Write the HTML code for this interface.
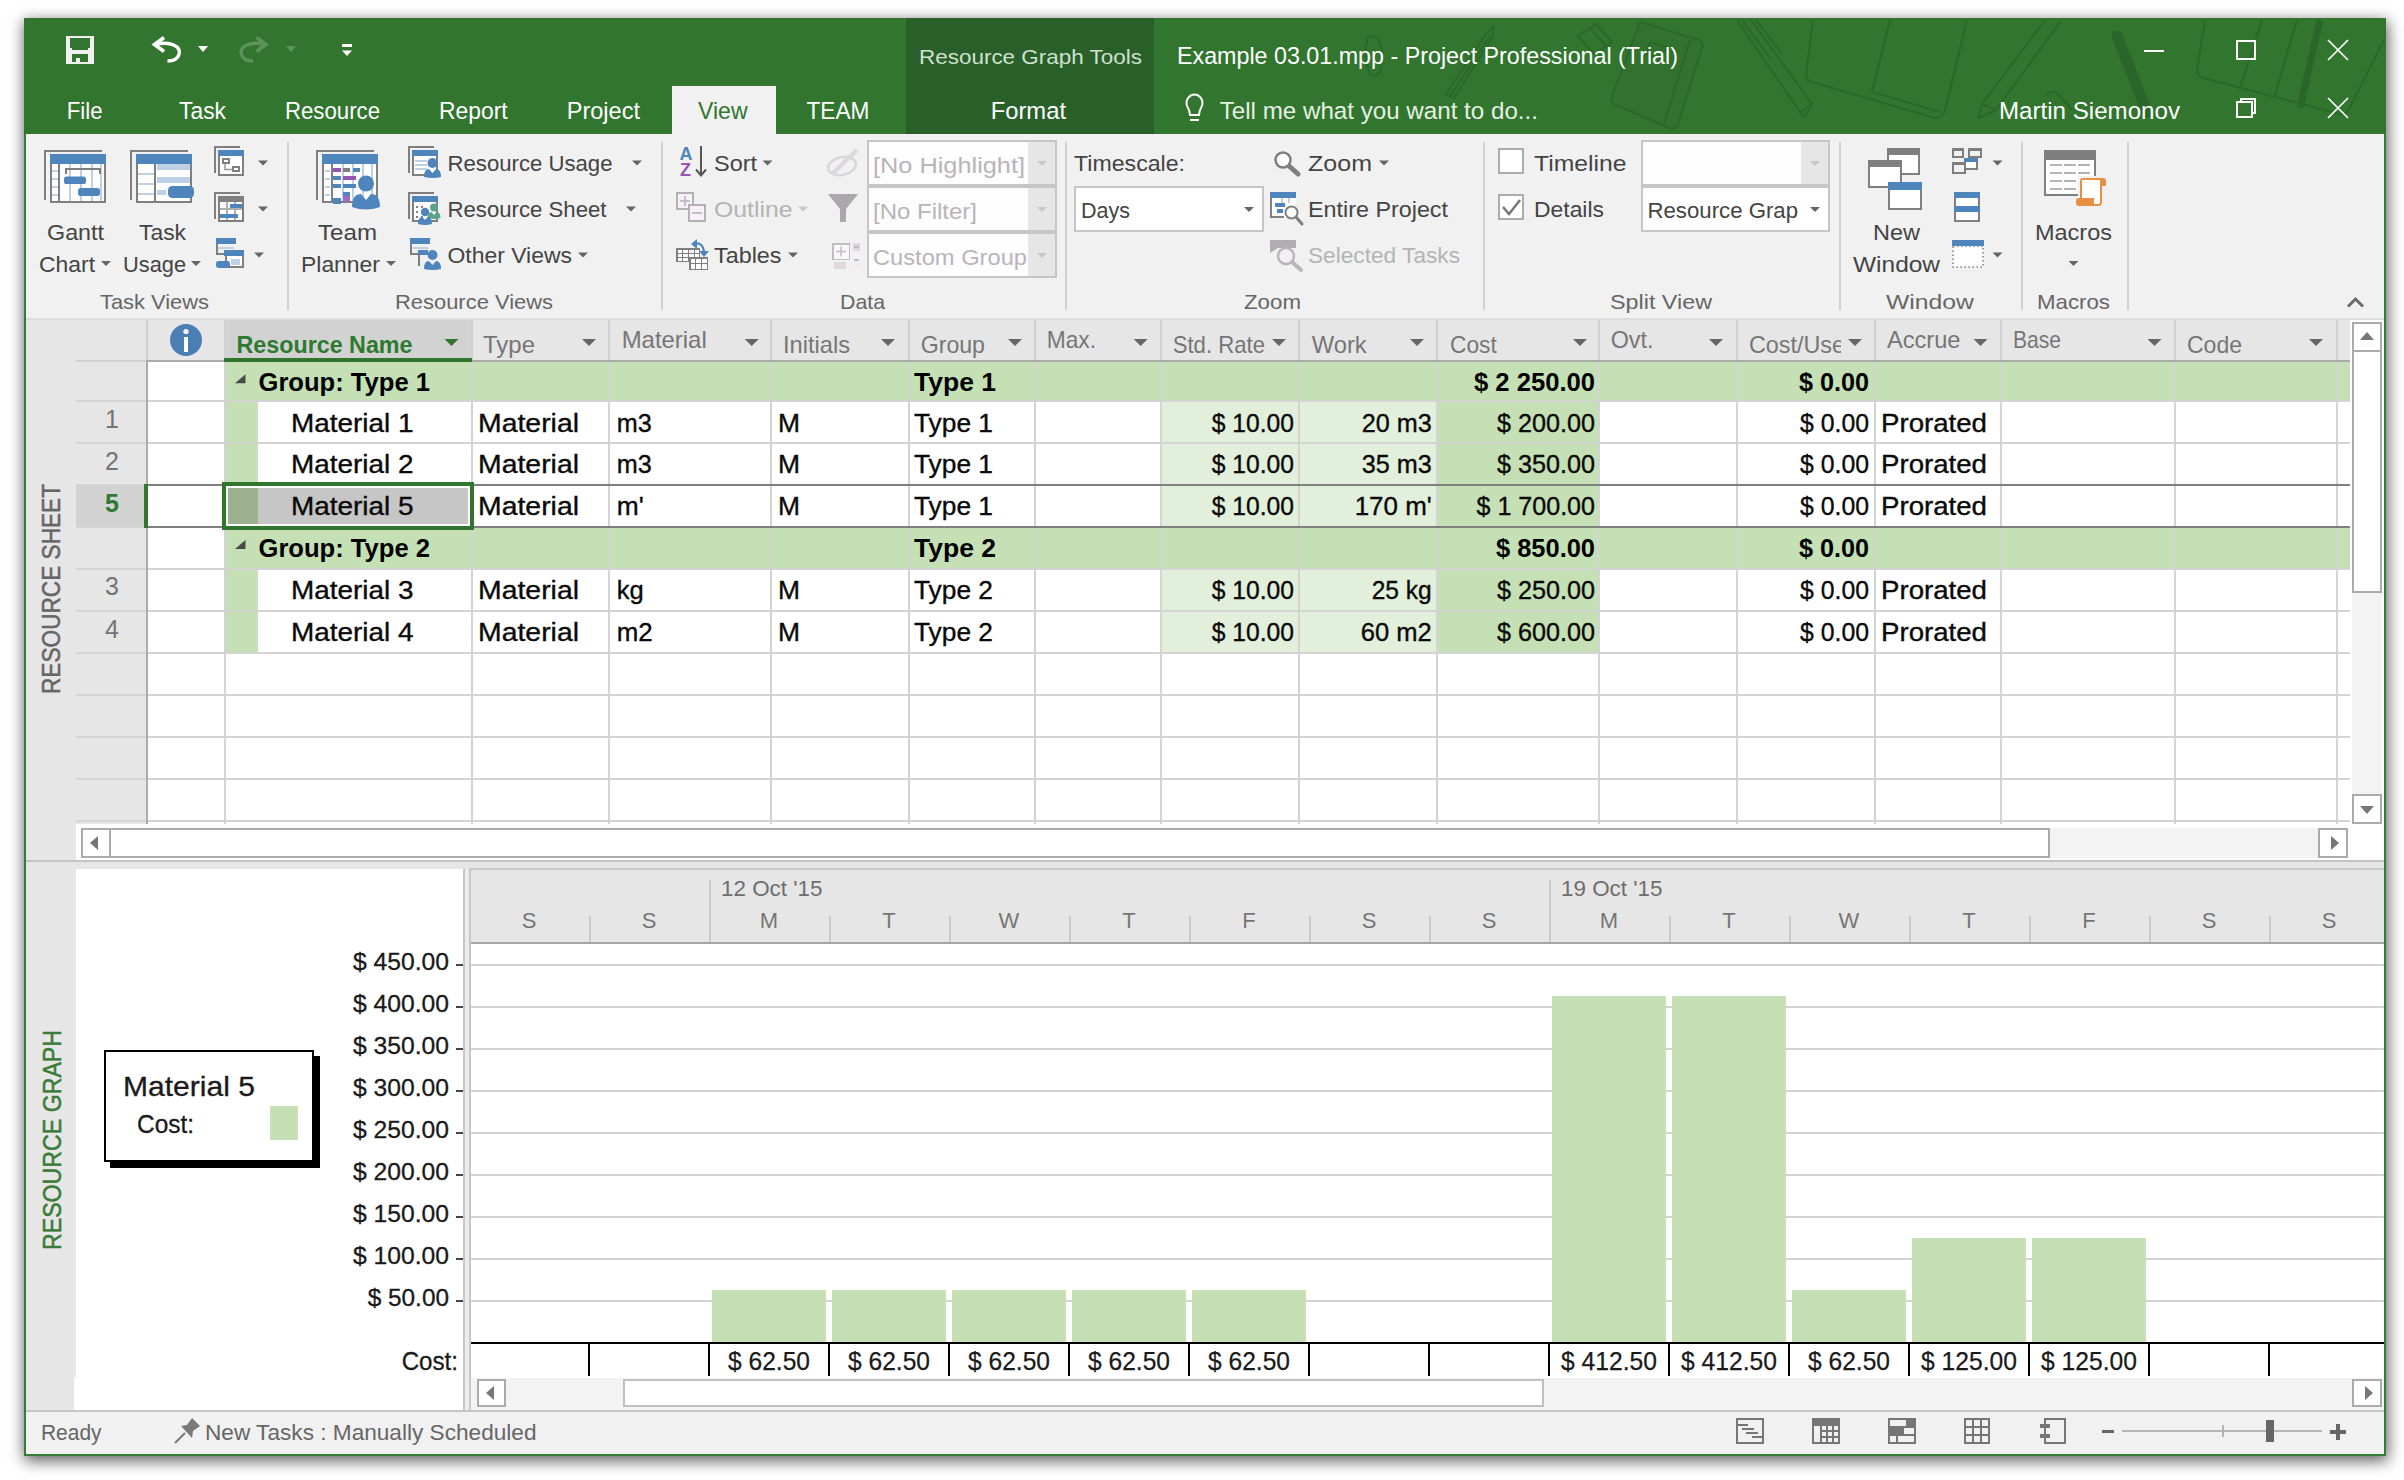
<!DOCTYPE html>
<html><head><meta charset="utf-8"><title>Project Professional</title>
<style>
html,body{margin:0;padding:0;background:#fff;width:2404px;height:1480px;overflow:hidden}
#shadow{position:absolute;left:24px;top:18px;width:2362px;height:1438px;box-shadow:1px 4px 14px 1px rgba(0,0,0,.62);background:#31752f}
svg{position:absolute;left:0;top:0;font-family:"Liberation Sans",sans-serif}
text{white-space:pre}
</style></head><body>
<div id="shadow"></div>
<svg width="2404" height="1480" viewBox="0 0 2404 1480">
<rect x="24" y="18" width="2362" height="1438" fill="#31752f" shape-rendering="crispEdges"/>
<rect x="26" y="134" width="2358" height="1320" fill="#f1f1f1" shape-rendering="crispEdges"/>
<rect x="906" y="18" width="248" height="116" fill="#295f28" shape-rendering="crispEdges"/>
<g stroke="#2a6829" stroke-width="2" fill="none" stroke-linejoin="round">
<path d="M1368,38 q-6,16 2,36 q6,4 10,-2 q6,-18 -2,-34 q-6,-4 -10,0 z M1374,50 q-3,10 1,20"/>
<path d="M1446,94 L1486,34 L1494,26 L1492,38 L1454,98 z M1450,96 L1490,36"/>
<path d="M1578,36 L1596,24 L1612,42 L1594,54 z M1590,28 L1606,46"/>
<path d="M1640,22 L1700,40 Q1704,42 1702,48 L1678,124 Q1675,130 1669,128 L1614,104 Q1610,102 1612,96 z M1690,40 L1664,124" fill="#30722e"/>
<path d="M1650,42 l16,5 l-4,12 l-16,-5 z"/>
<path d="M1742,20 L1770,58 M1756,20 L1782,54"/>
<path d="M1737,20 L1800,112 L1805,117 L1812,104 L1751,20 M1800,112 L1812,104"/>
<path d="M1813,20 L1806,75 Q1806,80 1812,82 L1935,118 Q1942,119 1945,110 L1967,20 M1890,20 L1872,92 L1940,112"/>
<path d="M2045,20 L1982,104 L1978,118 L1996,110 L2060,22 M1982,104 L1996,110"/>
<path d="M2046,96 q6,-8 12,-2 l14,16"/>
<path d="M2205,20 L2197,70 Q2197,76 2203,78 L2340,114 Q2346,115 2349,109 L2384,40 M2297,20 L2274,98 M2262,20 L2240,88"/>
</g>
<path d="M2117,36 L2147,112" stroke="#2a662a" stroke-width="11" stroke-linecap="round" fill="none"/>
<path d="M2320,20 L2300,108" stroke="#2a662a" stroke-width="7" fill="none"/>
<rect x="672" y="86" width="104" height="48" fill="#f1f1f1" shape-rendering="crispEdges"/>
<rect x="66" y="36" width="28" height="28" fill="#f0f0f0" shape-rendering="crispEdges"/>
<path d="M70,38 h20 v10 h-2 v2 h-16 v-2 h-2 z" fill="#31752f"/>
<path d="M72,54 h16 v8 h-16 z" fill="#31752f"/>
<rect x="76" y="58" width="4" height="4" fill="#f0f0f0" shape-rendering="crispEdges"/>
<path d="M164,37.5 L154.5,44.5 L164,51.5" fill="none" stroke="#ffffff" stroke-width="3.6"/>
<path d="M156,44.5 C170,41 181.5,46 179,54.5 C177.5,59.5 173,61 167.5,61" fill="none" stroke="#ffffff" stroke-width="3.4"/>
<path d="M198,46 h10 l-5,6 z" fill="#ffffff"/>
<g opacity="0.21">
<path d="M256.5,37.5 L266,44.5 L256.5,51.5" fill="none" stroke="#ffffff" stroke-width="3.6"/>
<path d="M264.5,44.5 C250.5,41 239,46 241.5,54.5 C243,59.5 247.5,61 253,61" fill="none" stroke="#ffffff" stroke-width="3.4"/>
<path d="M286,46 h10 l-5,6 z" fill="#ffffff"/>
</g>
<rect x="342" y="44" width="10" height="2.5" fill="#ffffff" shape-rendering="crispEdges"/>
<path d="M342,50.4 h10 l-5,5.6 z" fill="#ffffff"/>
<text x="919" y="64" font-size="21" fill="#cfe0cf" textLength="223" lengthAdjust="spacingAndGlyphs">Resource Graph Tools</text>
<text x="1177" y="64" font-size="24.5" fill="#ffffff" textLength="501" lengthAdjust="spacingAndGlyphs">Example 03.01.mpp - Project Professional (Trial)</text>
<text x="66.7" y="119.2" font-size="24.5" fill="#ffffff" textLength="35.9" lengthAdjust="spacingAndGlyphs">File</text>
<text x="179" y="119.2" font-size="24.5" fill="#ffffff" textLength="47" lengthAdjust="spacingAndGlyphs">Task</text>
<text x="285" y="119.2" font-size="24.5" fill="#ffffff" textLength="95" lengthAdjust="spacingAndGlyphs">Resource</text>
<text x="439" y="119.2" font-size="24.5" fill="#ffffff" textLength="68.6" lengthAdjust="spacingAndGlyphs">Report</text>
<text x="566.7" y="119.2" font-size="24.5" fill="#ffffff" textLength="73.3" lengthAdjust="spacingAndGlyphs">Project</text>
<text x="806.5" y="119.2" font-size="24.5" fill="#ffffff" textLength="63" lengthAdjust="spacingAndGlyphs">TEAM</text>
<text x="990.7" y="119.2" font-size="24.5" fill="#ffffff" textLength="75.3" lengthAdjust="spacingAndGlyphs">Format</text>
<text x="698" y="119.2" font-size="24.5" fill="#31752f" textLength="49.6" lengthAdjust="spacingAndGlyphs">View</text>
<text x="1219.7" y="119.2" font-size="24.5" fill="#e6f0e0" textLength="318.3" lengthAdjust="spacingAndGlyphs">Tell me what you want to do...</text>
<text x="1999" y="119.2" font-size="24.5" fill="#ffffff" textLength="181" lengthAdjust="spacingAndGlyphs">Martin Siemonov</text>
<path d="M1188,108 a8,8.5 0 1 1 13,0 q-2,3 -2,7 h-9 q0,-4 -2,-7 z" fill="none" stroke="#ffffff" stroke-width="2"/>
<rect x="1190" y="119" width="9" height="2" fill="#ffffff" shape-rendering="crispEdges"/>
<rect x="2144" y="50" width="20" height="2" fill="#ffffff" shape-rendering="crispEdges"/>
<rect x="2237" y="41" width="18" height="18" fill="none" stroke="#ffffff" stroke-width="2" shape-rendering="crispEdges"/>
<path d="M2328,40 L2348,60 M2348,40 L2328,60" fill="none" stroke="#ffffff" stroke-width="1.7"/>
<rect x="2237" y="102" width="15" height="15" fill="none" stroke="#ffffff" stroke-width="2" shape-rendering="crispEdges"/>
<path d="M2241,101 v-2 h14 v14 h-2" fill="none" stroke="#ffffff" stroke-width="2" shape-rendering="crispEdges"/>
<path d="M2328,98 L2348,118 M2348,98 L2328,118" fill="none" stroke="#ffffff" stroke-width="1.7"/>
<rect x="26" y="318" width="2358" height="2" fill="#dcdcdc" shape-rendering="crispEdges"/>
<rect x="287" y="142" width="2" height="168" fill="#d2d2d2" shape-rendering="crispEdges"/>
<rect x="661" y="142" width="2" height="168" fill="#d2d2d2" shape-rendering="crispEdges"/>
<rect x="1065" y="142" width="2" height="168" fill="#d2d2d2" shape-rendering="crispEdges"/>
<rect x="1483" y="142" width="2" height="168" fill="#d2d2d2" shape-rendering="crispEdges"/>
<rect x="1839" y="142" width="2" height="168" fill="#d2d2d2" shape-rendering="crispEdges"/>
<rect x="2021" y="142" width="2" height="168" fill="#d2d2d2" shape-rendering="crispEdges"/>
<rect x="2127" y="142" width="2" height="168" fill="#d2d2d2" shape-rendering="crispEdges"/>
<path d="M45,200 V151 H102" fill="none" stroke="#7f7f7f" stroke-width="2" shape-rendering="crispEdges"/>
<rect x="50" y="154" width="56" height="49" fill="#ffffff" shape-rendering="crispEdges"/>
<path d="M51,154 V202 H105 V154" fill="none" stroke="#7f7f7f" stroke-width="2" shape-rendering="crispEdges"/>
<rect x="50" y="154" width="56" height="10" fill="#4e85bd" shape-rendering="crispEdges"/>
<rect x="52" y="170" width="6" height="2" fill="#bdd0e6" shape-rendering="crispEdges"/>
<rect x="52" y="178" width="6" height="2" fill="#bdd0e6" shape-rendering="crispEdges"/>
<rect x="52" y="186" width="6" height="2" fill="#bdd0e6" shape-rendering="crispEdges"/>
<rect x="52" y="194" width="6" height="2" fill="#bdd0e6" shape-rendering="crispEdges"/>
<rect x="69" y="164" width="2" height="37" fill="#bdd0e6" shape-rendering="crispEdges"/>
<rect x="80" y="164" width="2" height="37" fill="#bdd0e6" shape-rendering="crispEdges"/>
<rect x="91" y="164" width="2" height="37" fill="#bdd0e6" shape-rendering="crispEdges"/>
<rect x="100" y="164" width="2" height="37" fill="#bdd0e6" shape-rendering="crispEdges"/>
<rect x="58" y="164" width="2" height="38" fill="#7f7f7f" shape-rendering="crispEdges"/>
<path d="M66,174 V169 H100 V174" fill="none" stroke="#7f7f7f" stroke-width="2" shape-rendering="crispEdges"/>
<rect x="64" y="176.5" width="22" height="7.5" rx="2.62" fill="#4e85bd"/>
<rect x="78" y="188" width="22" height="8" rx="2.8" fill="#4e85bd"/>
<text x="47" y="240" font-size="22.6" fill="#444444" textLength="57" lengthAdjust="spacingAndGlyphs">Gantt</text>
<text x="39" y="271.5" font-size="22.6" fill="#444444" textLength="56" lengthAdjust="spacingAndGlyphs">Chart</text>
<path d="M101,261 h10 l-5,5 z" fill="#666666"/>
<path d="M131,200 V151 H188" fill="none" stroke="#7f7f7f" stroke-width="2" shape-rendering="crispEdges"/>
<rect x="136" y="154" width="56" height="49" fill="#ffffff" shape-rendering="crispEdges"/>
<path d="M137,154 V202 H191 V154" fill="none" stroke="#7f7f7f" stroke-width="2" shape-rendering="crispEdges"/>
<rect x="136" y="154" width="56" height="10" fill="#4e85bd" shape-rendering="crispEdges"/>
<rect x="138" y="173" width="16" height="2" fill="#bdd0e6" shape-rendering="crispEdges"/>
<rect x="138" y="183" width="16" height="2" fill="#bdd0e6" shape-rendering="crispEdges"/>
<rect x="138" y="193" width="16" height="2" fill="#bdd0e6" shape-rendering="crispEdges"/>
<rect x="154" y="164" width="2" height="38" fill="#7f7f7f" shape-rendering="crispEdges"/>
<rect x="157" y="164" width="33" height="6" fill="#bdd0e6" shape-rendering="crispEdges"/>
<rect x="157" y="177" width="33" height="6" fill="#bdd0e6" shape-rendering="crispEdges"/>
<rect x="157" y="190" width="9" height="5" fill="#bdd0e6" shape-rendering="crispEdges"/>
<rect x="168" y="186" width="26" height="12" rx="4.2" fill="#4e85bd"/>
<text x="139" y="240" font-size="22.6" fill="#444444" textLength="47" lengthAdjust="spacingAndGlyphs">Task</text>
<text x="123" y="271.5" font-size="22.6" fill="#444444" textLength="63" lengthAdjust="spacingAndGlyphs">Usage</text>
<path d="M191,261 h10 l-5,5 z" fill="#666666"/>
<path d="M215,173 V147 H240" fill="none" stroke="#7f7f7f" stroke-width="2" shape-rendering="crispEdges"/>
<rect x="218" y="150" width="26" height="26" fill="#ffffff" shape-rendering="crispEdges"/>
<path d="M219,150 V175 H243 V150" fill="none" stroke="#7f7f7f" stroke-width="2" shape-rendering="crispEdges"/>
<rect x="218" y="150" width="26" height="6" fill="#4e85bd" shape-rendering="crispEdges"/>
<rect x="222.9" y="158.9" width="6.2" height="4.2" fill="none" stroke="#7f7f7f" stroke-width="1.8" shape-rendering="crispEdges"/>
<rect x="232.9" y="166.9" width="6.2" height="4.2" fill="none" stroke="#7f7f7f" stroke-width="1.8" shape-rendering="crispEdges"/>
<path d="M225,164 V169.5 H232" fill="none" stroke="#999999" stroke-width="1.6"/>
<path d="M258,160.5 h10 l-5,5 z" fill="#666666"/>
<path d="M215,219 V193 H240" fill="none" stroke="#7f7f7f" stroke-width="2" shape-rendering="crispEdges"/>
<rect x="218" y="196" width="26" height="26" fill="#ffffff" shape-rendering="crispEdges"/>
<path d="M219,196 V221 H243 V196" fill="none" stroke="#7f7f7f" stroke-width="2" shape-rendering="crispEdges"/>
<rect x="218" y="196" width="26" height="6" fill="#7f7f7f" shape-rendering="crispEdges"/>
<rect x="226" y="202" width="1.5" height="18" fill="#b0b0b0" shape-rendering="crispEdges"/>
<rect x="234" y="202" width="1.5" height="18" fill="#b0b0b0" shape-rendering="crispEdges"/>
<rect x="220" y="208" width="22" height="1.5" fill="#b0b0b0" shape-rendering="crispEdges"/>
<rect x="230" y="204" width="12" height="3.8" fill="#4e85bd" shape-rendering="crispEdges"/>
<rect x="220" y="214" width="18" height="3.8" fill="#4e85bd" shape-rendering="crispEdges"/>
<path d="M258,206.5 h10 l-5,5 z" fill="#666666"/>
<rect x="216" y="238" width="20" height="6" fill="#4e85bd" shape-rendering="crispEdges"/>
<path d="M217,244 V254 H224" fill="none" stroke="#7f7f7f" stroke-width="2" shape-rendering="crispEdges"/>
<rect x="218" y="247" width="16" height="1.5" fill="#bdd0e6" shape-rendering="crispEdges"/>
<rect x="226" y="251" width="17" height="16" fill="#ffffff" stroke="#7f7f7f" stroke-width="2" shape-rendering="crispEdges"/>
<rect x="224" y="250" width="20" height="6" fill="#4e85bd" shape-rendering="crispEdges"/>
<rect x="231" y="259" width="9" height="6" fill="#bdd0e6" shape-rendering="crispEdges"/>
<rect x="216" y="261" width="14" height="7" rx="2.45" fill="#4e85bd"/>
<path d="M254,252.5 h10 l-5,5 z" fill="#666666"/>
<text x="100" y="309" font-size="21" fill="#666666" textLength="109" lengthAdjust="spacingAndGlyphs">Task Views</text>
<path d="M317,200 V151 H374" fill="none" stroke="#7f7f7f" stroke-width="2" shape-rendering="crispEdges"/>
<rect x="322" y="154" width="56" height="49" fill="#ffffff" shape-rendering="crispEdges"/>
<path d="M323,154 V202 H377 V154" fill="none" stroke="#7f7f7f" stroke-width="2" shape-rendering="crispEdges"/>
<rect x="322" y="154" width="56" height="10" fill="#4e85bd" shape-rendering="crispEdges"/>
<rect x="331" y="164" width="2" height="38" fill="#7f7f7f" shape-rendering="crispEdges"/>
<rect x="325" y="170" width="5" height="2" fill="#bdd0e6" shape-rendering="crispEdges"/>
<rect x="325" y="178" width="5" height="2" fill="#bdd0e6" shape-rendering="crispEdges"/>
<rect x="325" y="186" width="5" height="2" fill="#bdd0e6" shape-rendering="crispEdges"/>
<rect x="325" y="194" width="5" height="2" fill="#bdd0e6" shape-rendering="crispEdges"/>
<rect x="342" y="164" width="2" height="37" fill="#bdd0e6" shape-rendering="crispEdges"/>
<rect x="352" y="164" width="2" height="37" fill="#bdd0e6" shape-rendering="crispEdges"/>
<rect x="362" y="164" width="2" height="37" fill="#bdd0e6" shape-rendering="crispEdges"/>
<rect x="371" y="164" width="2" height="37" fill="#bdd0e6" shape-rendering="crispEdges"/>
<rect x="333" y="168" width="8" height="3.5" fill="#9654b5" shape-rendering="crispEdges"/>
<rect x="343" y="168" width="7" height="3.5" fill="#7f7f7f" shape-rendering="crispEdges"/>
<rect x="353" y="168" width="7" height="3.5" fill="#4e85bd" shape-rendering="crispEdges"/>
<rect x="333" y="176" width="8" height="3.5" fill="#4e85bd" shape-rendering="crispEdges"/>
<rect x="343" y="176" width="13" height="3.5" fill="#9654b5" shape-rendering="crispEdges"/>
<rect x="333" y="184" width="8" height="3.5" fill="#4e85bd" shape-rendering="crispEdges"/>
<rect x="343" y="184" width="13" height="3.5" fill="#4e85bd" shape-rendering="crispEdges"/>
<rect x="343" y="192" width="7" height="3.5" fill="#4e85bd" shape-rendering="crispEdges"/>
<rect x="333" y="198" width="8" height="6" fill="#4e85bd" shape-rendering="crispEdges"/>
<rect x="343" y="196" width="7" height="6" fill="#9f6cc0" shape-rendering="crispEdges"/>
<circle cx="366" cy="183.5" r="8" fill="#4e85bd"/>
<path d="M352,207 q0,-13 9,-13 l5,6 l5,-6 q9,0 9,13 q-14,5 -28,0 z" fill="#4e85bd"/>
<text x="318" y="240" font-size="22.6" fill="#444444" textLength="59" lengthAdjust="spacingAndGlyphs">Team</text>
<text x="301" y="271.5" font-size="22.6" fill="#444444" textLength="79" lengthAdjust="spacingAndGlyphs">Planner</text>
<path d="M386,261 h10 l-5,5 z" fill="#666666"/>
<path d="M409,173 V147 H434" fill="none" stroke="#7f7f7f" stroke-width="2" shape-rendering="crispEdges"/>
<rect x="412" y="150" width="26" height="26" fill="#ffffff" shape-rendering="crispEdges"/>
<path d="M413,150 V175 H437 V150" fill="none" stroke="#7f7f7f" stroke-width="2" shape-rendering="crispEdges"/>
<rect x="412" y="150" width="26" height="6" fill="#4e85bd" shape-rendering="crispEdges"/>
<rect x="415" y="160" width="12" height="1.5" fill="#bdd0e6" shape-rendering="crispEdges"/>
<rect x="415" y="164" width="12" height="1.5" fill="#bdd0e6" shape-rendering="crispEdges"/>
<rect x="415" y="168" width="12" height="1.5" fill="#bdd0e6" shape-rendering="crispEdges"/>
<circle cx="432.5" cy="163" r="5" fill="#4e85bd"/>
<path d="M424,177 q0,-8 5,-8 l3.5,4 l3.5,-4 q5,0 5,8 q-8,2 -17,0 z" fill="#4e85bd"/>
<text x="447.5" y="171" font-size="22.6" fill="#444444" textLength="165" lengthAdjust="spacingAndGlyphs">Resource Usage</text>
<path d="M632,160.5 h10 l-5,5 z" fill="#666666"/>
<path d="M409,219 V193 H434" fill="none" stroke="#7f7f7f" stroke-width="2" shape-rendering="crispEdges"/>
<rect x="412" y="196" width="26" height="26" fill="#ffffff" shape-rendering="crispEdges"/>
<path d="M413,196 V221 H437 V196" fill="none" stroke="#7f7f7f" stroke-width="2" shape-rendering="crispEdges"/>
<rect x="412" y="196" width="26" height="6" fill="#4e85bd" shape-rendering="crispEdges"/>
<rect x="416" y="206" width="2" height="2" fill="#7f7f7f" shape-rendering="crispEdges"/>
<rect x="421" y="206" width="2" height="2" fill="#7f7f7f" shape-rendering="crispEdges"/>
<rect x="416" y="211" width="2" height="2" fill="#7f7f7f" shape-rendering="crispEdges"/>
<rect x="421" y="211" width="2" height="2" fill="#7f7f7f" shape-rendering="crispEdges"/>
<rect x="416" y="216" width="2" height="2" fill="#7f7f7f" shape-rendering="crispEdges"/>
<rect x="421" y="216" width="2" height="2" fill="#7f7f7f" shape-rendering="crispEdges"/>
<circle cx="434" cy="207.5" r="4" fill="#5ba48b"/>
<path d="M427.5,218 q0,-6 4,-6 l2.5,3 l2.5,-3 q4,0 4,6 q-6,2 -13,0 z" fill="#5ba48b"/>
<circle cx="425" cy="212" r="4.2" fill="#4e85bd"/>
<path d="M418,224 q0,-7 4.5,-7 l2.5,3 l2.5,-3 q4.5,0 4.5,7 q-7,2 -14,0 z" fill="#4e85bd"/>
<text x="447.5" y="217.3" font-size="22.6" fill="#444444" textLength="159" lengthAdjust="spacingAndGlyphs">Resource Sheet</text>
<path d="M626,206.5 h10 l-5,5 z" fill="#666666"/>
<rect x="410" y="238" width="20" height="6" fill="#4e85bd" shape-rendering="crispEdges"/>
<path d="M411,244 V254 H418" fill="none" stroke="#7f7f7f" stroke-width="2" shape-rendering="crispEdges"/>
<rect x="413" y="247" width="15" height="1.5" fill="#bdd0e6" shape-rendering="crispEdges"/>
<path d="M419,266 V251 H426" fill="none" stroke="#7f7f7f" stroke-width="2" shape-rendering="crispEdges"/>
<rect x="418" y="250" width="10" height="5" fill="#4e85bd" shape-rendering="crispEdges"/>
<circle cx="432.5" cy="255" r="5" fill="#4e85bd"/>
<path d="M424,269 q0,-8 5,-8 l3.5,4 l3.5,-4 q5,0 5,8 q-8,2 -17,0 z" fill="#4e85bd"/>
<text x="447.5" y="263.3" font-size="22.6" fill="#444444" textLength="124.5" lengthAdjust="spacingAndGlyphs">Other Views</text>
<path d="M578,252.5 h10 l-5,5 z" fill="#666666"/>
<text x="395" y="309" font-size="21" fill="#666666" textLength="158" lengthAdjust="spacingAndGlyphs">Resource Views</text>
<text x="679.5" y="160" font-size="18" fill="#4e85bd" font-weight="bold" textLength="13" lengthAdjust="spacingAndGlyphs">A</text>
<text x="680" y="175.6" font-size="18" fill="#9654b5" font-weight="bold" textLength="11" lengthAdjust="spacingAndGlyphs">Z</text>
<path d="M701,146 V175 M696,169.5 L701,175.5 L706,169.5" fill="none" stroke="#555555" stroke-width="2"/>
<text x="714" y="171" font-size="22.6" fill="#444444" textLength="43" lengthAdjust="spacingAndGlyphs">Sort</text>
<path d="M762.5,160.5 h10 l-5,5 z" fill="#666666"/>
<rect x="677" y="193" width="16" height="16" fill="#f7f0f7" stroke="#b4b1b4" stroke-width="2" shape-rendering="crispEdges"/>
<path d="M680,201 h10 M685,196 v10" fill="none" stroke="#b4b1b4" stroke-width="1.5"/>
<rect x="689" y="205" width="16" height="16" fill="#f7f0f7" stroke="#b4b1b4" stroke-width="2" shape-rendering="crispEdges"/>
<path d="M692,213 h10" fill="none" stroke="#b4b1b4" stroke-width="1.5"/>
<text x="714" y="217.3" font-size="22.6" fill="#b4b4b4" textLength="78.5" lengthAdjust="spacingAndGlyphs">Outline</text>
<path d="M798,206.5 h10 l-5,5 z" fill="#c8c8c8"/>
<rect x="676.75" y="248.75" width="22.5" height="12.5" fill="#ffffff" stroke="#7f7f7f" stroke-width="1.5" shape-rendering="crispEdges"/>
<rect x="682" y="249" width="1.2" height="12" fill="#7f7f7f" shape-rendering="crispEdges"/>
<rect x="688" y="249" width="1.2" height="12" fill="#7f7f7f" shape-rendering="crispEdges"/>
<rect x="694" y="249" width="1.2" height="12" fill="#7f7f7f" shape-rendering="crispEdges"/>
<rect x="677" y="252.5" width="22" height="1.2" fill="#7f7f7f" shape-rendering="crispEdges"/>
<rect x="677" y="256.5" width="22" height="1.2" fill="#7f7f7f" shape-rendering="crispEdges"/>
<rect x="689.75" y="257.75" width="17.5" height="11.5" fill="#ffffff" stroke="#7f7f7f" stroke-width="1.5" shape-rendering="crispEdges"/>
<rect x="695" y="258" width="1.2" height="11" fill="#7f7f7f" shape-rendering="crispEdges"/>
<rect x="701" y="258" width="1.2" height="11" fill="#7f7f7f" shape-rendering="crispEdges"/>
<rect x="690" y="263" width="17" height="1.2" fill="#7f7f7f" shape-rendering="crispEdges"/>
<path d="M693,244 q11,-3 11,10" fill="none" stroke="#4e85bd" stroke-width="2.2"/>
<path d="M691,244 l6,-5 v10 z M699,251 h10 l-5,6 z" fill="#4e85bd"/>
<text x="714" y="263.3" font-size="22.6" fill="#444444" textLength="67.5" lengthAdjust="spacingAndGlyphs">Tables</text>
<path d="M788,252.5 h10 l-5,5 z" fill="#666666"/>
<ellipse cx="842" cy="166" rx="14" ry="9" fill="none" stroke="#d8d6d8" stroke-width="2.5" transform="rotate(-12 842 166)"/>
<path d="M832,174 L857,150" fill="none" stroke="#dcd8dc" stroke-width="4"/>
<path d="M828,194 H858 L846,209 V222 H840 V209 z" fill="#aaa8aa"/>
<rect x="832.75" y="243.75" width="16.5" height="15.5" fill="#fbf6fb" stroke="#bdbdbd" stroke-width="1.5" shape-rendering="crispEdges"/>
<path d="M836,251.5 h10 M841,246.5 v10" fill="none" stroke="#bdbdbd" stroke-width="1.5"/>
<rect x="853" y="243" width="7" height="8" fill="#ded9de" shape-rendering="crispEdges"/>
<rect x="854" y="246" width="5" height="1.5" fill="#bdbdbd" shape-rendering="crispEdges"/>
<rect x="854" y="259" width="5" height="1.5" fill="#bdbdbd" shape-rendering="crispEdges"/>
<rect x="834" y="262" width="12" height="7" fill="#ded9de" shape-rendering="crispEdges"/>
<rect x="846" y="262" width="14" height="7" fill="#f3ecf3" shape-rendering="crispEdges"/>
<rect x="868" y="141" width="188" height="44" fill="#fdfdfd" stroke="#c6c6c6" stroke-width="2" shape-rendering="crispEdges"/>
<rect x="1028" y="142" width="27" height="42" fill="#e6e6e6" shape-rendering="crispEdges"/>
<path d="M1037,161 h10 l-5,5 z" fill="#c8c8c8"/>
<text x="873" y="173.2" font-size="22.6" fill="#b9b4b9" textLength="152" lengthAdjust="spacingAndGlyphs">[No Highlight]</text>
<rect x="868" y="187" width="188" height="44" fill="#fdfdfd" stroke="#c6c6c6" stroke-width="2" shape-rendering="crispEdges"/>
<rect x="1028" y="188" width="27" height="42" fill="#e6e6e6" shape-rendering="crispEdges"/>
<path d="M1037,207 h10 l-5,5 z" fill="#c8c8c8"/>
<text x="873" y="219.2" font-size="22.6" fill="#b9b4b9" textLength="104" lengthAdjust="spacingAndGlyphs">[No Filter]</text>
<rect x="868" y="233" width="188" height="44" fill="#fdfdfd" stroke="#c6c6c6" stroke-width="2" shape-rendering="crispEdges"/>
<rect x="1028" y="234" width="27" height="42" fill="#e6e6e6" shape-rendering="crispEdges"/>
<path d="M1037,253 h10 l-5,5 z" fill="#c8c8c8"/>
<text x="873" y="265" font-size="22.6" fill="#b9b4b9" textLength="154" lengthAdjust="spacingAndGlyphs">Custom Group</text>
<text x="840" y="309" font-size="21" fill="#666666" textLength="45" lengthAdjust="spacingAndGlyphs">Data</text>
<text x="1074" y="171" font-size="22.6" fill="#444444" textLength="111" lengthAdjust="spacingAndGlyphs">Timescale:</text>
<rect x="1075" y="187" width="188" height="44" fill="#ffffff" stroke="#c6c6c6" stroke-width="2" shape-rendering="crispEdges"/>
<path d="M1244,207 h10 l-5,5 z" fill="#666666"/>
<text x="1081" y="218" font-size="22.6" fill="#444444" textLength="49" lengthAdjust="spacingAndGlyphs">Days</text>
<path d="M1289,166 L1298,174" fill="none" stroke="#7f7f7f" stroke-width="5" stroke-linecap="round"/>
<circle cx="1283" cy="160" r="7.5" fill="#ffffff" stroke="#7f7f7f" stroke-width="2.5"/>
<text x="1308" y="171" font-size="22.6" fill="#444444" textLength="64" lengthAdjust="spacingAndGlyphs">Zoom</text>
<path d="M1379,160.5 h10 l-5,5 z" fill="#666666"/>
<rect x="1272" y="198" width="24" height="20" fill="#ffffff" shape-rendering="crispEdges"/>
<path d="M1271,198 V217 H1284" fill="none" stroke="#7f7f7f" stroke-width="2" shape-rendering="crispEdges"/>
<rect x="1270" y="192" width="26" height="6" fill="#4e85bd" shape-rendering="crispEdges"/>
<rect x="1281" y="198" width="2" height="5" fill="#bdd0e6" shape-rendering="crispEdges"/>
<rect x="1288" y="198" width="2" height="5" fill="#bdd0e6" shape-rendering="crispEdges"/>
<rect x="1275" y="203" width="10" height="3.5" fill="#4e85bd" shape-rendering="crispEdges"/>
<rect x="1277" y="209" width="6" height="3.5" fill="#4e85bd" shape-rendering="crispEdges"/>
<path d="M1296,217 L1302,224" fill="none" stroke="#7f7f7f" stroke-width="3" stroke-linecap="round"/>
<circle cx="1291.5" cy="212.5" r="6" fill="#ffffff" stroke="#7f7f7f" stroke-width="2"/>
<text x="1308" y="217.3" font-size="22.6" fill="#444444" textLength="140" lengthAdjust="spacingAndGlyphs">Entire Project</text>
<path d="M1270,240 H1296 V248 H1278 L1270,253 z" fill="#b0aeb0"/>
<path d="M1292,262 L1301,270" fill="none" stroke="#b8b6b8" stroke-width="4" stroke-linecap="round"/>
<circle cx="1286" cy="256" r="8" fill="#f5eef5" stroke="#b8b6b8" stroke-width="2.5"/>
<text x="1308" y="263.3" font-size="22.6" fill="#b4b4b4" textLength="152" lengthAdjust="spacingAndGlyphs">Selected Tasks</text>
<text x="1244" y="309" font-size="21" fill="#666666" textLength="57" lengthAdjust="spacingAndGlyphs">Zoom</text>
<rect x="1499" y="149" width="24" height="24" fill="#ffffff" stroke="#ababab" stroke-width="2" shape-rendering="crispEdges"/>
<text x="1534" y="171" font-size="22.6" fill="#444444" textLength="92.5" lengthAdjust="spacingAndGlyphs">Timeline</text>
<rect x="1499" y="195" width="24" height="24" fill="#ffffff" stroke="#ababab" stroke-width="2" shape-rendering="crispEdges"/>
<path d="M1503,207 L1509,214 L1520,200" fill="none" stroke="#777777" stroke-width="2.5"/>
<text x="1534" y="217.3" font-size="22.6" fill="#444444" textLength="70" lengthAdjust="spacingAndGlyphs">Details</text>
<rect x="1642" y="141" width="187" height="44" fill="#fdfdfd" stroke="#c6c6c6" stroke-width="2" shape-rendering="crispEdges"/>
<rect x="1801" y="142" width="27" height="42" fill="#e6e6e6" shape-rendering="crispEdges"/>
<path d="M1810,161 h10 l-5,5 z" fill="#c8c8c8"/>
<rect x="1642" y="187" width="187" height="44" fill="#ffffff" stroke="#c6c6c6" stroke-width="2" shape-rendering="crispEdges"/>
<path d="M1810,207 h10 l-5,5 z" fill="#666666"/>
<text x="1647.5" y="218" font-size="22.6" fill="#444444" textLength="150.5" lengthAdjust="spacingAndGlyphs">Resource Grap</text>
<text x="1610" y="309" font-size="21" fill="#666666" textLength="102" lengthAdjust="spacingAndGlyphs">Split View</text>
<rect x="1888" y="149" width="31" height="25" fill="#ffffff" stroke="#7f7f7f" stroke-width="2" shape-rendering="crispEdges"/>
<rect x="1887" y="148" width="33" height="7" fill="#7f7f7f" shape-rendering="crispEdges"/>
<rect x="1869" y="161" width="32" height="26" fill="#ffffff" stroke="#7f7f7f" stroke-width="2" shape-rendering="crispEdges"/>
<rect x="1868" y="160" width="34" height="7" fill="#7f7f7f" shape-rendering="crispEdges"/>
<rect x="1889" y="183" width="32" height="26" fill="#ffffff" stroke="#7f7f7f" stroke-width="2" shape-rendering="crispEdges"/>
<rect x="1888" y="182" width="34" height="8" fill="#4e85bd" shape-rendering="crispEdges"/>
<text x="1873" y="240" font-size="22.6" fill="#444444" textLength="47" lengthAdjust="spacingAndGlyphs">New</text>
<text x="1853" y="271.5" font-size="22.6" fill="#444444" textLength="87" lengthAdjust="spacingAndGlyphs">Window</text>
<rect x="1953" y="149" width="10" height="8" fill="#f1f1f1" stroke="#7f7f7f" stroke-width="2" shape-rendering="crispEdges"/>
<rect x="1952" y="148" width="12" height="3" fill="#7f7f7f" shape-rendering="crispEdges"/>
<rect x="1969" y="149" width="12" height="8" fill="#f1f1f1" stroke="#7f7f7f" stroke-width="2" shape-rendering="crispEdges"/>
<rect x="1968" y="148" width="14" height="3" fill="#7f7f7f" shape-rendering="crispEdges"/>
<rect x="1953" y="163" width="12" height="10" fill="#f1f1f1" stroke="#7f7f7f" stroke-width="2" shape-rendering="crispEdges"/>
<rect x="1952" y="162" width="14" height="3" fill="#7f7f7f" shape-rendering="crispEdges"/>
<rect x="1965" y="159" width="12" height="10" fill="#ffffff" stroke="#7f7f7f" stroke-width="2" shape-rendering="crispEdges"/>
<rect x="1964" y="158" width="14" height="4" fill="#4e85bd" shape-rendering="crispEdges"/>
<path d="M1992.5,160.5 h10 l-5,5 z" fill="#666666"/>
<rect x="1955" y="193" width="24" height="14" fill="#ffffff" stroke="#7f7f7f" stroke-width="2" shape-rendering="crispEdges"/>
<rect x="1954" y="192" width="26" height="6" fill="#4e85bd" shape-rendering="crispEdges"/>
<rect x="1955" y="207" width="24" height="14" fill="#ffffff" stroke="#7f7f7f" stroke-width="2" shape-rendering="crispEdges"/>
<rect x="1954" y="206" width="26" height="6" fill="#4e85bd" shape-rendering="crispEdges"/>
<rect x="1953" y="246" width="30" height="21" fill="#ffffff" shape-rendering="crispEdges"/>
<rect x="1953" y="246" width="30" height="21" fill="none" stroke="#7f7f7f" stroke-width="1.5" stroke-dasharray="1.5 2.5"/>
<rect x="1952" y="240" width="32" height="6" fill="#4e85bd" shape-rendering="crispEdges"/>
<path d="M1992.5,252.5 h10 l-5,5 z" fill="#666666"/>
<text x="1886" y="309" font-size="21" fill="#666666" textLength="88" lengthAdjust="spacingAndGlyphs">Window</text>
<rect x="2045" y="151" width="50" height="44" fill="#ffffff" stroke="#7f7f7f" stroke-width="2" shape-rendering="crispEdges"/>
<rect x="2044" y="150" width="52" height="10" fill="#7f7f7f" shape-rendering="crispEdges"/>
<rect x="2050" y="164" width="12" height="2" fill="#b4b4b4" shape-rendering="crispEdges"/>
<rect x="2064" y="164" width="12" height="2" fill="#b4b4b4" shape-rendering="crispEdges"/>
<rect x="2078" y="164" width="12" height="2" fill="#b4b4b4" shape-rendering="crispEdges"/>
<rect x="2050" y="172" width="12" height="2" fill="#b4b4b4" shape-rendering="crispEdges"/>
<rect x="2064" y="172" width="12" height="2" fill="#b4b4b4" shape-rendering="crispEdges"/>
<rect x="2078" y="172" width="12" height="2" fill="#b4b4b4" shape-rendering="crispEdges"/>
<rect x="2050" y="180" width="12" height="2" fill="#b4b4b4" shape-rendering="crispEdges"/>
<rect x="2064" y="180" width="12" height="2" fill="#b4b4b4" shape-rendering="crispEdges"/>
<rect x="2050" y="188" width="12" height="2" fill="#b4b4b4" shape-rendering="crispEdges"/>
<rect x="2064" y="188" width="12" height="2" fill="#b4b4b4" shape-rendering="crispEdges"/>
<path d="M2078,176 h30 v12 h-4 v20 h-30 v-12 h4 z" fill="#f1f1f1"/>
<path d="M2083,178 h20 q3,0 3,3 v5 h-4 v16 q0,4 -4,4 h-19 q-3,0 -3,-3 v-2 q0,-3 3,-3 h1 v-17 q0,-3 3,-3 z" fill="#e78f45"/>
<path d="M2082,180 h18 v22 q0,2 -2,2 h-4 v-6 h-12 z" fill="#ffffff"/>
<text x="2035" y="240" font-size="22.6" fill="#444444" textLength="77" lengthAdjust="spacingAndGlyphs">Macros</text>
<path d="M2068.5,261 h10 l-5,5 z" fill="#666666"/>
<text x="2037" y="309" font-size="21" fill="#666666" textLength="73" lengthAdjust="spacingAndGlyphs">Macros</text>
<path d="M2348,306.5 L2355.5,299 L2363,306.5" fill="none" stroke="#6a6a6a" stroke-width="3"/>
<rect x="26" y="320" width="50" height="542" fill="#e6e6e6" shape-rendering="crispEdges"/>
<text transform="translate(60 589) rotate(-90)" font-size="25" fill="#666666" text-anchor="middle" textLength="210" lengthAdjust="spacingAndGlyphs" stroke="#666666" stroke-width="0.5">RESOURCE SHEET</text>
<rect x="76" y="320" width="2274" height="40" fill="#e6e6e6" shape-rendering="crispEdges"/>
<rect x="76" y="360" width="70" height="464" fill="#e6e6e6" shape-rendering="crispEdges"/>
<rect x="148" y="362" width="2202" height="462" fill="#ffffff" shape-rendering="crispEdges"/>
<rect x="2350" y="320" width="34" height="542" fill="#ffffff" shape-rendering="crispEdges"/>
<rect x="76" y="824" width="2274" height="38" fill="#ffffff" shape-rendering="crispEdges"/>
<rect x="225" y="320" width="246" height="40" fill="#d2d2d2" shape-rendering="crispEdges"/>
<rect x="226" y="362" width="2124" height="38" fill="#c5e0b4" shape-rendering="crispEdges"/>
<rect x="226" y="528" width="2124" height="40" fill="#c5e0b4" shape-rendering="crispEdges"/>
<rect x="226" y="402" width="32" height="40" fill="#c5e0b4" shape-rendering="crispEdges"/>
<rect x="1162" y="402" width="136" height="40" fill="#e2efda" shape-rendering="crispEdges"/>
<rect x="1300" y="402" width="136" height="40" fill="#e2efda" shape-rendering="crispEdges"/>
<rect x="1438" y="402" width="160" height="40" fill="#c5e0b4" shape-rendering="crispEdges"/>
<rect x="226" y="444" width="32" height="40" fill="#c5e0b4" shape-rendering="crispEdges"/>
<rect x="1162" y="444" width="136" height="40" fill="#e2efda" shape-rendering="crispEdges"/>
<rect x="1300" y="444" width="136" height="40" fill="#e2efda" shape-rendering="crispEdges"/>
<rect x="1438" y="444" width="160" height="40" fill="#c5e0b4" shape-rendering="crispEdges"/>
<rect x="226" y="486" width="32" height="40" fill="#c5e0b4" shape-rendering="crispEdges"/>
<rect x="1162" y="486" width="136" height="40" fill="#e2efda" shape-rendering="crispEdges"/>
<rect x="1300" y="486" width="136" height="40" fill="#e2efda" shape-rendering="crispEdges"/>
<rect x="1438" y="486" width="160" height="40" fill="#c5e0b4" shape-rendering="crispEdges"/>
<rect x="226" y="570" width="32" height="40" fill="#c5e0b4" shape-rendering="crispEdges"/>
<rect x="1162" y="570" width="136" height="40" fill="#e2efda" shape-rendering="crispEdges"/>
<rect x="1300" y="570" width="136" height="40" fill="#e2efda" shape-rendering="crispEdges"/>
<rect x="1438" y="570" width="160" height="40" fill="#c5e0b4" shape-rendering="crispEdges"/>
<rect x="226" y="612" width="32" height="40" fill="#c5e0b4" shape-rendering="crispEdges"/>
<rect x="1162" y="612" width="136" height="40" fill="#e2efda" shape-rendering="crispEdges"/>
<rect x="1300" y="612" width="136" height="40" fill="#e2efda" shape-rendering="crispEdges"/>
<rect x="1438" y="612" width="160" height="40" fill="#c5e0b4" shape-rendering="crispEdges"/>
<rect x="76" y="400" width="2274" height="2" fill="#d4d4d4" shape-rendering="crispEdges"/>
<rect x="76" y="442" width="2274" height="2" fill="#d4d4d4" shape-rendering="crispEdges"/>
<rect x="76" y="484" width="2274" height="2" fill="#d4d4d4" shape-rendering="crispEdges"/>
<rect x="76" y="526" width="2274" height="2" fill="#d4d4d4" shape-rendering="crispEdges"/>
<rect x="76" y="568" width="2274" height="2" fill="#d4d4d4" shape-rendering="crispEdges"/>
<rect x="76" y="610" width="2274" height="2" fill="#d4d4d4" shape-rendering="crispEdges"/>
<rect x="76" y="652" width="2274" height="2" fill="#d4d4d4" shape-rendering="crispEdges"/>
<rect x="76" y="694" width="2274" height="2" fill="#d4d4d4" shape-rendering="crispEdges"/>
<rect x="76" y="736" width="2274" height="2" fill="#d4d4d4" shape-rendering="crispEdges"/>
<rect x="76" y="778" width="2274" height="2" fill="#d4d4d4" shape-rendering="crispEdges"/>
<rect x="76" y="820" width="2274" height="2" fill="#d4d4d4" shape-rendering="crispEdges"/>
<rect x="224" y="362" width="2" height="462" fill="#d4d4d4" shape-rendering="crispEdges"/>
<rect x="224" y="320" width="2" height="40" fill="#d0d0d0" shape-rendering="crispEdges"/>
<rect x="471" y="362" width="2" height="462" fill="#d4d4d4" shape-rendering="crispEdges"/>
<rect x="471" y="320" width="2" height="40" fill="#d0d0d0" shape-rendering="crispEdges"/>
<rect x="608" y="362" width="2" height="462" fill="#d4d4d4" shape-rendering="crispEdges"/>
<rect x="608" y="320" width="2" height="40" fill="#d0d0d0" shape-rendering="crispEdges"/>
<rect x="770" y="362" width="2" height="462" fill="#d4d4d4" shape-rendering="crispEdges"/>
<rect x="770" y="320" width="2" height="40" fill="#d0d0d0" shape-rendering="crispEdges"/>
<rect x="908" y="362" width="2" height="462" fill="#d4d4d4" shape-rendering="crispEdges"/>
<rect x="908" y="320" width="2" height="40" fill="#d0d0d0" shape-rendering="crispEdges"/>
<rect x="1034" y="362" width="2" height="462" fill="#d4d4d4" shape-rendering="crispEdges"/>
<rect x="1034" y="320" width="2" height="40" fill="#d0d0d0" shape-rendering="crispEdges"/>
<rect x="1160" y="362" width="2" height="462" fill="#d4d4d4" shape-rendering="crispEdges"/>
<rect x="1160" y="320" width="2" height="40" fill="#d0d0d0" shape-rendering="crispEdges"/>
<rect x="1298" y="362" width="2" height="462" fill="#d4d4d4" shape-rendering="crispEdges"/>
<rect x="1298" y="320" width="2" height="40" fill="#d0d0d0" shape-rendering="crispEdges"/>
<rect x="1436" y="362" width="2" height="462" fill="#d4d4d4" shape-rendering="crispEdges"/>
<rect x="1436" y="320" width="2" height="40" fill="#d0d0d0" shape-rendering="crispEdges"/>
<rect x="1598" y="362" width="2" height="462" fill="#d4d4d4" shape-rendering="crispEdges"/>
<rect x="1598" y="320" width="2" height="40" fill="#d0d0d0" shape-rendering="crispEdges"/>
<rect x="1736" y="362" width="2" height="462" fill="#d4d4d4" shape-rendering="crispEdges"/>
<rect x="1736" y="320" width="2" height="40" fill="#d0d0d0" shape-rendering="crispEdges"/>
<rect x="1874" y="362" width="2" height="462" fill="#d4d4d4" shape-rendering="crispEdges"/>
<rect x="1874" y="320" width="2" height="40" fill="#d0d0d0" shape-rendering="crispEdges"/>
<rect x="2000" y="362" width="2" height="462" fill="#d4d4d4" shape-rendering="crispEdges"/>
<rect x="2000" y="320" width="2" height="40" fill="#d0d0d0" shape-rendering="crispEdges"/>
<rect x="2174" y="362" width="2" height="462" fill="#d4d4d4" shape-rendering="crispEdges"/>
<rect x="2174" y="320" width="2" height="40" fill="#d0d0d0" shape-rendering="crispEdges"/>
<rect x="2336" y="362" width="2" height="462" fill="#d4d4d4" shape-rendering="crispEdges"/>
<rect x="2336" y="320" width="2" height="40" fill="#d0d0d0" shape-rendering="crispEdges"/>
<rect x="146" y="320" width="2" height="40" fill="#d0d0d0" shape-rendering="crispEdges"/>
<rect x="146" y="360" width="2" height="464" fill="#ababab" shape-rendering="crispEdges"/>
<rect x="76" y="360" width="70" height="2" fill="#d0d0d0" shape-rendering="crispEdges"/>
<rect x="146" y="360" width="2204" height="2" fill="#ababab" shape-rendering="crispEdges"/>
<rect x="224" y="358" width="248" height="4" fill="#31752f" shape-rendering="crispEdges"/>
<rect x="76" y="486" width="70" height="40" fill="#d2d2d2" shape-rendering="crispEdges"/>
<rect x="147" y="484" width="2203" height="2" fill="#7f7f7f" shape-rendering="crispEdges"/>
<rect x="147" y="526" width="2203" height="2" fill="#7f7f7f" shape-rendering="crispEdges"/>
<rect x="144" y="484" width="4" height="44" fill="#31752f" shape-rendering="crispEdges"/>
<rect x="224" y="484" width="248" height="44" fill="#ffffff" stroke="#31752f" stroke-width="4" shape-rendering="crispEdges"/>
<rect x="228" y="488" width="240" height="36" fill="#c6c6c6" shape-rendering="crispEdges"/>
<rect x="228" y="488" width="30" height="36" fill="#9cb28f" shape-rendering="crispEdges"/>
<circle cx="186" cy="340" r="16" fill="#4a7fb5"/>
<circle cx="186" cy="331.5" r="2.6" fill="#ffffff"/>
<rect x="183.6" y="336.5" width="4.8" height="15" fill="#ffffff" shape-rendering="crispEdges"/>
<text x="236.5" y="353" font-size="24.5" fill="#2e7a30" font-weight="bold" textLength="176" lengthAdjust="spacingAndGlyphs">Resource Name</text>
<path d="M444.5,339 h14 l-7,7 z" fill="#31752f"/>
<text x="483" y="353" font-size="24" fill="#767676" textLength="52" lengthAdjust="spacingAndGlyphs">Type</text>
<path d="M582,339 h14 l-7,7 z" fill="#666666"/>
<text x="621.7" y="347.5" font-size="24" fill="#767676" textLength="85" lengthAdjust="spacingAndGlyphs">Material</text>
<path d="M744.7,339 h14 l-7,7 z" fill="#666666"/>
<text x="783" y="353" font-size="24" fill="#767676" textLength="67" lengthAdjust="spacingAndGlyphs">Initials</text>
<path d="M881,339 h14 l-7,7 z" fill="#666666"/>
<text x="920.7" y="353" font-size="24" fill="#767676" textLength="64.3" lengthAdjust="spacingAndGlyphs">Group</text>
<path d="M1008,339 h14 l-7,7 z" fill="#666666"/>
<text x="1046.7" y="347.5" font-size="24" fill="#767676" textLength="49.3" lengthAdjust="spacingAndGlyphs">Max.</text>
<path d="M1133.7,339 h14 l-7,7 z" fill="#666666"/>
<text x="1172.7" y="353" font-size="24" fill="#767676" textLength="92.3" lengthAdjust="spacingAndGlyphs">Std. Rate</text>
<path d="M1272,339 h14 l-7,7 z" fill="#666666"/>
<text x="1311.7" y="353" font-size="24" fill="#767676" textLength="55" lengthAdjust="spacingAndGlyphs">Work</text>
<path d="M1410,339 h14 l-7,7 z" fill="#666666"/>
<text x="1450" y="353" font-size="24" fill="#767676" textLength="46.7" lengthAdjust="spacingAndGlyphs">Cost</text>
<path d="M1573,339 h14 l-7,7 z" fill="#666666"/>
<text x="1610.7" y="347.5" font-size="24" fill="#767676" textLength="42.8" lengthAdjust="spacingAndGlyphs">Ovt.</text>
<path d="M1709,339 h14 l-7,7 z" fill="#666666"/>
<text x="1887" y="347.5" font-size="24" fill="#767676" textLength="73.5" lengthAdjust="spacingAndGlyphs">Accrue</text>
<path d="M1973.5,339 h14 l-7,7 z" fill="#666666"/>
<text x="2013" y="347.5" font-size="24" fill="#767676" textLength="48" lengthAdjust="spacingAndGlyphs">Base</text>
<path d="M2147.5,339 h14 l-7,7 z" fill="#666666"/>
<text x="2187" y="353" font-size="24" fill="#767676" textLength="55" lengthAdjust="spacingAndGlyphs">Code</text>
<path d="M2309,339 h14 l-7,7 z" fill="#666666"/>
<clipPath id="cu"><rect x="1745" y="322" width="96" height="38"/></clipPath>
<text x="1749" y="353" font-size="24" fill="#767676" textLength="96" lengthAdjust="spacingAndGlyphs" clip-path="url(#cu)">Cost/Use</text>
<path d="M1848,339 h14 l-7,7 z" fill="#666666"/>
<path d="M245.5,383.3 h-10.5 l10.5,-9 z" fill="#4a4a4a"/>
<text x="258.5" y="391" font-size="25.5" fill="#000000" font-weight="bold" textLength="171.5" lengthAdjust="spacingAndGlyphs">Group: Type 1</text>
<text x="914" y="391" font-size="25.5" fill="#000000" font-weight="bold" textLength="82" lengthAdjust="spacingAndGlyphs">Type 1</text>
<text x="1474" y="391" font-size="25.5" fill="#000000" font-weight="bold" textLength="121" lengthAdjust="spacingAndGlyphs">$ 2 250.00</text>
<text x="1799" y="391" font-size="25.5" fill="#000000" font-weight="bold" textLength="70" lengthAdjust="spacingAndGlyphs">$ 0.00</text>
<text x="112" y="428" font-size="25" fill="#747474" text-anchor="middle">1</text>
<text x="291" y="431.5" font-size="25.5" fill="#0a0a0a" textLength="122.6" lengthAdjust="spacingAndGlyphs" stroke="#0a0a0a" stroke-width="0.35">Material 1</text>
<text x="478" y="431.5" font-size="25.5" fill="#0a0a0a" textLength="101" lengthAdjust="spacingAndGlyphs" stroke="#0a0a0a" stroke-width="0.35">Material</text>
<text x="616.7" y="431.5" font-size="25.5" fill="#0a0a0a" textLength="35" lengthAdjust="spacingAndGlyphs" stroke="#0a0a0a" stroke-width="0.35">m3</text>
<text x="778" y="431.5" font-size="25.5" fill="#0a0a0a" textLength="22" lengthAdjust="spacingAndGlyphs" stroke="#0a0a0a" stroke-width="0.35">M</text>
<text x="914" y="431.5" font-size="25.5" fill="#0a0a0a" textLength="79" lengthAdjust="spacingAndGlyphs" stroke="#0a0a0a" stroke-width="0.35">Type 1</text>
<text x="1211.7" y="431.5" font-size="25.5" fill="#0a0a0a" textLength="82.3" lengthAdjust="spacingAndGlyphs" stroke="#0a0a0a" stroke-width="0.35">$ 10.00</text>
<text x="1361.7" y="431.5" font-size="25.5" fill="#0a0a0a" textLength="70" lengthAdjust="spacingAndGlyphs" stroke="#0a0a0a" stroke-width="0.35">20 m3</text>
<text x="1497" y="431.5" font-size="25.5" fill="#0a0a0a" textLength="98" lengthAdjust="spacingAndGlyphs" stroke="#0a0a0a" stroke-width="0.35">$ 200.00</text>
<text x="1800" y="431.5" font-size="25.5" fill="#0a0a0a" textLength="69" lengthAdjust="spacingAndGlyphs" stroke="#0a0a0a" stroke-width="0.35">$ 0.00</text>
<text x="1881" y="431.5" font-size="25.5" fill="#0a0a0a" textLength="106" lengthAdjust="spacingAndGlyphs" stroke="#0a0a0a" stroke-width="0.35">Prorated</text>
<text x="112" y="469.8" font-size="25" fill="#747474" text-anchor="middle">2</text>
<text x="291" y="473.3" font-size="25.5" fill="#0a0a0a" textLength="122.6" lengthAdjust="spacingAndGlyphs" stroke="#0a0a0a" stroke-width="0.35">Material 2</text>
<text x="478" y="473.3" font-size="25.5" fill="#0a0a0a" textLength="101" lengthAdjust="spacingAndGlyphs" stroke="#0a0a0a" stroke-width="0.35">Material</text>
<text x="616.7" y="473.3" font-size="25.5" fill="#0a0a0a" textLength="35" lengthAdjust="spacingAndGlyphs" stroke="#0a0a0a" stroke-width="0.35">m3</text>
<text x="778" y="473.3" font-size="25.5" fill="#0a0a0a" textLength="22" lengthAdjust="spacingAndGlyphs" stroke="#0a0a0a" stroke-width="0.35">M</text>
<text x="914" y="473.3" font-size="25.5" fill="#0a0a0a" textLength="79" lengthAdjust="spacingAndGlyphs" stroke="#0a0a0a" stroke-width="0.35">Type 1</text>
<text x="1211.7" y="473.3" font-size="25.5" fill="#0a0a0a" textLength="82.3" lengthAdjust="spacingAndGlyphs" stroke="#0a0a0a" stroke-width="0.35">$ 10.00</text>
<text x="1361.7" y="473.3" font-size="25.5" fill="#0a0a0a" textLength="70" lengthAdjust="spacingAndGlyphs" stroke="#0a0a0a" stroke-width="0.35">35 m3</text>
<text x="1497" y="473.3" font-size="25.5" fill="#0a0a0a" textLength="98" lengthAdjust="spacingAndGlyphs" stroke="#0a0a0a" stroke-width="0.35">$ 350.00</text>
<text x="1800" y="473.3" font-size="25.5" fill="#0a0a0a" textLength="69" lengthAdjust="spacingAndGlyphs" stroke="#0a0a0a" stroke-width="0.35">$ 0.00</text>
<text x="1881" y="473.3" font-size="25.5" fill="#0a0a0a" textLength="106" lengthAdjust="spacingAndGlyphs" stroke="#0a0a0a" stroke-width="0.35">Prorated</text>
<text x="112" y="512.1" font-size="25" fill="#2e7a30" font-weight="bold" text-anchor="middle">5</text>
<text x="291" y="515.3" font-size="25.5" fill="#0a0a0a" textLength="122.6" lengthAdjust="spacingAndGlyphs" stroke="#0a0a0a" stroke-width="0.35">Material 5</text>
<text x="478" y="515.3" font-size="25.5" fill="#0a0a0a" textLength="101" lengthAdjust="spacingAndGlyphs" stroke="#0a0a0a" stroke-width="0.35">Material</text>
<text x="616.7" y="515.3" font-size="25.5" fill="#0a0a0a" textLength="27" lengthAdjust="spacingAndGlyphs" stroke="#0a0a0a" stroke-width="0.35">m&#x27;</text>
<text x="778" y="515.3" font-size="25.5" fill="#0a0a0a" textLength="22" lengthAdjust="spacingAndGlyphs" stroke="#0a0a0a" stroke-width="0.35">M</text>
<text x="914" y="515.3" font-size="25.5" fill="#0a0a0a" textLength="79" lengthAdjust="spacingAndGlyphs" stroke="#0a0a0a" stroke-width="0.35">Type 1</text>
<text x="1211.7" y="515.3" font-size="25.5" fill="#0a0a0a" textLength="82.3" lengthAdjust="spacingAndGlyphs" stroke="#0a0a0a" stroke-width="0.35">$ 10.00</text>
<text x="1354.7" y="515.3" font-size="25.5" fill="#0a0a0a" textLength="77" lengthAdjust="spacingAndGlyphs" stroke="#0a0a0a" stroke-width="0.35">170 m&#x27;</text>
<text x="1476.5" y="515.3" font-size="25.5" fill="#0a0a0a" textLength="118.5" lengthAdjust="spacingAndGlyphs" stroke="#0a0a0a" stroke-width="0.35">$ 1 700.00</text>
<text x="1800" y="515.3" font-size="25.5" fill="#0a0a0a" textLength="69" lengthAdjust="spacingAndGlyphs" stroke="#0a0a0a" stroke-width="0.35">$ 0.00</text>
<text x="1881" y="515.3" font-size="25.5" fill="#0a0a0a" textLength="106" lengthAdjust="spacingAndGlyphs" stroke="#0a0a0a" stroke-width="0.35">Prorated</text>
<path d="M245.5,549.1 h-10.5 l10.5,-9 z" fill="#4a4a4a"/>
<text x="258.5" y="556.8" font-size="25.5" fill="#000000" font-weight="bold" textLength="171.5" lengthAdjust="spacingAndGlyphs">Group: Type 2</text>
<text x="914" y="556.8" font-size="25.5" fill="#000000" font-weight="bold" textLength="82" lengthAdjust="spacingAndGlyphs">Type 2</text>
<text x="1496" y="556.8" font-size="25.5" fill="#000000" font-weight="bold" textLength="99" lengthAdjust="spacingAndGlyphs">$ 850.00</text>
<text x="1799" y="556.8" font-size="25.5" fill="#000000" font-weight="bold" textLength="70" lengthAdjust="spacingAndGlyphs">$ 0.00</text>
<text x="112" y="595.3" font-size="25" fill="#747474" text-anchor="middle">3</text>
<text x="291" y="598.8" font-size="25.5" fill="#0a0a0a" textLength="122.6" lengthAdjust="spacingAndGlyphs" stroke="#0a0a0a" stroke-width="0.35">Material 3</text>
<text x="478" y="598.8" font-size="25.5" fill="#0a0a0a" textLength="101" lengthAdjust="spacingAndGlyphs" stroke="#0a0a0a" stroke-width="0.35">Material</text>
<text x="616.7" y="598.8" font-size="25.5" fill="#0a0a0a" textLength="27" lengthAdjust="spacingAndGlyphs" stroke="#0a0a0a" stroke-width="0.35">kg</text>
<text x="778" y="598.8" font-size="25.5" fill="#0a0a0a" textLength="22" lengthAdjust="spacingAndGlyphs" stroke="#0a0a0a" stroke-width="0.35">M</text>
<text x="914" y="598.8" font-size="25.5" fill="#0a0a0a" textLength="79" lengthAdjust="spacingAndGlyphs" stroke="#0a0a0a" stroke-width="0.35">Type 2</text>
<text x="1211.7" y="598.8" font-size="25.5" fill="#0a0a0a" textLength="82.3" lengthAdjust="spacingAndGlyphs" stroke="#0a0a0a" stroke-width="0.35">$ 10.00</text>
<text x="1371.7" y="598.8" font-size="25.5" fill="#0a0a0a" textLength="60" lengthAdjust="spacingAndGlyphs" stroke="#0a0a0a" stroke-width="0.35">25 kg</text>
<text x="1497" y="598.8" font-size="25.5" fill="#0a0a0a" textLength="98" lengthAdjust="spacingAndGlyphs" stroke="#0a0a0a" stroke-width="0.35">$ 250.00</text>
<text x="1800" y="598.8" font-size="25.5" fill="#0a0a0a" textLength="69" lengthAdjust="spacingAndGlyphs" stroke="#0a0a0a" stroke-width="0.35">$ 0.00</text>
<text x="1881" y="598.8" font-size="25.5" fill="#0a0a0a" textLength="106" lengthAdjust="spacingAndGlyphs" stroke="#0a0a0a" stroke-width="0.35">Prorated</text>
<text x="112" y="637.5" font-size="25" fill="#747474" text-anchor="middle">4</text>
<text x="291" y="641" font-size="25.5" fill="#0a0a0a" textLength="122.6" lengthAdjust="spacingAndGlyphs" stroke="#0a0a0a" stroke-width="0.35">Material 4</text>
<text x="478" y="641" font-size="25.5" fill="#0a0a0a" textLength="101" lengthAdjust="spacingAndGlyphs" stroke="#0a0a0a" stroke-width="0.35">Material</text>
<text x="616.7" y="641" font-size="25.5" fill="#0a0a0a" textLength="36" lengthAdjust="spacingAndGlyphs" stroke="#0a0a0a" stroke-width="0.35">m2</text>
<text x="778" y="641" font-size="25.5" fill="#0a0a0a" textLength="22" lengthAdjust="spacingAndGlyphs" stroke="#0a0a0a" stroke-width="0.35">M</text>
<text x="914" y="641" font-size="25.5" fill="#0a0a0a" textLength="79" lengthAdjust="spacingAndGlyphs" stroke="#0a0a0a" stroke-width="0.35">Type 2</text>
<text x="1211.7" y="641" font-size="25.5" fill="#0a0a0a" textLength="82.3" lengthAdjust="spacingAndGlyphs" stroke="#0a0a0a" stroke-width="0.35">$ 10.00</text>
<text x="1360.7" y="641" font-size="25.5" fill="#0a0a0a" textLength="71" lengthAdjust="spacingAndGlyphs" stroke="#0a0a0a" stroke-width="0.35">60 m2</text>
<text x="1497" y="641" font-size="25.5" fill="#0a0a0a" textLength="98" lengthAdjust="spacingAndGlyphs" stroke="#0a0a0a" stroke-width="0.35">$ 600.00</text>
<text x="1800" y="641" font-size="25.5" fill="#0a0a0a" textLength="69" lengthAdjust="spacingAndGlyphs" stroke="#0a0a0a" stroke-width="0.35">$ 0.00</text>
<text x="1881" y="641" font-size="25.5" fill="#0a0a0a" textLength="106" lengthAdjust="spacingAndGlyphs" stroke="#0a0a0a" stroke-width="0.35">Prorated</text>
<rect x="2353" y="323" width="28" height="28" fill="#ffffff" stroke="#ababab" stroke-width="2" shape-rendering="crispEdges"/>
<path d="M2360,340 h14 l-7,-8 z" fill="#777777"/>
<rect x="2353" y="351" width="28" height="241" fill="#ffffff" stroke="#ababab" stroke-width="2" shape-rendering="crispEdges"/>
<rect x="2352" y="593" width="30" height="201" fill="#f3f3f3" shape-rendering="crispEdges"/>
<rect x="2353" y="795" width="28" height="28" fill="#ffffff" stroke="#ababab" stroke-width="2" shape-rendering="crispEdges"/>
<path d="M2360,806 h14 l-7,8 z" fill="#777777"/>
<rect x="81" y="828" width="2266" height="30" fill="#f3f3f3" shape-rendering="crispEdges"/>
<rect x="82" y="829" width="28" height="28" fill="#ffffff" stroke="#ababab" stroke-width="2" shape-rendering="crispEdges"/>
<path d="M98,836 v14 l-8,-7 z" fill="#777777"/>
<rect x="110" y="829" width="1939" height="28" fill="#ffffff" stroke="#ababab" stroke-width="2" shape-rendering="crispEdges"/>
<rect x="2319" y="829" width="28" height="28" fill="#ffffff" stroke="#ababab" stroke-width="2" shape-rendering="crispEdges"/>
<path d="M2331,836 v14 l8,-7 z" fill="#777777"/>
<rect x="26" y="860" width="2358" height="2" fill="#c4c4c4" shape-rendering="crispEdges"/>
<rect x="26" y="862" width="2358" height="7" fill="#e6e6e6" shape-rendering="crispEdges"/>
<rect x="26" y="869" width="50" height="542" fill="#e6e6e6" shape-rendering="crispEdges"/>
<text transform="translate(60.5 1140) rotate(-90)" font-size="25" fill="#3a7d38" text-anchor="middle" textLength="220" lengthAdjust="spacingAndGlyphs" stroke="#3a7d38" stroke-width="0.5">RESOURCE GRAPH</text>
<rect x="76" y="869" width="387" height="541" fill="#ffffff" shape-rendering="crispEdges"/>
<rect x="74" y="1377" width="4" height="34" fill="#ffffff" shape-rendering="crispEdges"/>
<rect x="463" y="869" width="8" height="542" fill="#ececec" shape-rendering="crispEdges"/>
<rect x="463" y="869" width="2" height="542" fill="#c8c8c8" shape-rendering="crispEdges"/>
<rect x="469" y="869" width="2" height="542" fill="#c8c8c8" shape-rendering="crispEdges"/>
<rect x="471" y="869" width="1913" height="73" fill="#e6e6e6" shape-rendering="crispEdges"/>
<rect x="469" y="868" width="1915" height="2" fill="#c8c8c8" shape-rendering="crispEdges"/>
<rect x="471" y="942" width="1913" height="2" fill="#a6a6a6" shape-rendering="crispEdges"/>
<rect x="471" y="944" width="1913" height="434" fill="#ffffff" shape-rendering="crispEdges"/>
<rect x="589" y="916" width="2" height="26" fill="#cacaca" shape-rendering="crispEdges"/>
<rect x="709" y="880" width="2" height="62" fill="#cacaca" shape-rendering="crispEdges"/>
<rect x="829" y="916" width="2" height="26" fill="#cacaca" shape-rendering="crispEdges"/>
<rect x="949" y="916" width="2" height="26" fill="#cacaca" shape-rendering="crispEdges"/>
<rect x="1069" y="916" width="2" height="26" fill="#cacaca" shape-rendering="crispEdges"/>
<rect x="1189" y="916" width="2" height="26" fill="#cacaca" shape-rendering="crispEdges"/>
<rect x="1309" y="916" width="2" height="26" fill="#cacaca" shape-rendering="crispEdges"/>
<rect x="1429" y="916" width="2" height="26" fill="#cacaca" shape-rendering="crispEdges"/>
<rect x="1549" y="880" width="2" height="62" fill="#cacaca" shape-rendering="crispEdges"/>
<rect x="1669" y="916" width="2" height="26" fill="#cacaca" shape-rendering="crispEdges"/>
<rect x="1789" y="916" width="2" height="26" fill="#cacaca" shape-rendering="crispEdges"/>
<rect x="1909" y="916" width="2" height="26" fill="#cacaca" shape-rendering="crispEdges"/>
<rect x="2029" y="916" width="2" height="26" fill="#cacaca" shape-rendering="crispEdges"/>
<rect x="2149" y="916" width="2" height="26" fill="#cacaca" shape-rendering="crispEdges"/>
<rect x="2269" y="916" width="2" height="26" fill="#cacaca" shape-rendering="crispEdges"/>
<text x="721" y="896" font-size="22" fill="#6e6e6e" textLength="101.5" lengthAdjust="spacingAndGlyphs">12 Oct &#x27;15</text>
<text x="1561" y="896" font-size="22" fill="#6e6e6e" textLength="101.5" lengthAdjust="spacingAndGlyphs">19 Oct &#x27;15</text>
<text x="529" y="928" font-size="22" fill="#767676" text-anchor="middle">S</text>
<text x="649" y="928" font-size="22" fill="#767676" text-anchor="middle">S</text>
<text x="769" y="928" font-size="22" fill="#767676" text-anchor="middle">M</text>
<text x="889" y="928" font-size="22" fill="#767676" text-anchor="middle">T</text>
<text x="1009" y="928" font-size="22" fill="#767676" text-anchor="middle">W</text>
<text x="1129" y="928" font-size="22" fill="#767676" text-anchor="middle">T</text>
<text x="1249" y="928" font-size="22" fill="#767676" text-anchor="middle">F</text>
<text x="1369" y="928" font-size="22" fill="#767676" text-anchor="middle">S</text>
<text x="1489" y="928" font-size="22" fill="#767676" text-anchor="middle">S</text>
<text x="1609" y="928" font-size="22" fill="#767676" text-anchor="middle">M</text>
<text x="1729" y="928" font-size="22" fill="#767676" text-anchor="middle">T</text>
<text x="1849" y="928" font-size="22" fill="#767676" text-anchor="middle">W</text>
<text x="1969" y="928" font-size="22" fill="#767676" text-anchor="middle">T</text>
<text x="2089" y="928" font-size="22" fill="#767676" text-anchor="middle">F</text>
<text x="2209" y="928" font-size="22" fill="#767676" text-anchor="middle">S</text>
<text x="2329" y="928" font-size="22" fill="#767676" text-anchor="middle">S</text>
<rect x="471" y="1300" width="1913" height="2" fill="#d4d4d4" shape-rendering="crispEdges"/>
<rect x="471" y="1258" width="1913" height="2" fill="#d4d4d4" shape-rendering="crispEdges"/>
<rect x="471" y="1216" width="1913" height="2" fill="#d4d4d4" shape-rendering="crispEdges"/>
<rect x="471" y="1174" width="1913" height="2" fill="#d4d4d4" shape-rendering="crispEdges"/>
<rect x="471" y="1132" width="1913" height="2" fill="#d4d4d4" shape-rendering="crispEdges"/>
<rect x="471" y="1090" width="1913" height="2" fill="#d4d4d4" shape-rendering="crispEdges"/>
<rect x="471" y="1048" width="1913" height="2" fill="#d4d4d4" shape-rendering="crispEdges"/>
<rect x="471" y="1006" width="1913" height="2" fill="#d4d4d4" shape-rendering="crispEdges"/>
<rect x="471" y="964" width="1913" height="2" fill="#d4d4d4" shape-rendering="crispEdges"/>
<rect x="712" y="1290" width="114" height="52" fill="#c5e0b4" shape-rendering="crispEdges"/>
<rect x="832" y="1290" width="114" height="52" fill="#c5e0b4" shape-rendering="crispEdges"/>
<rect x="952" y="1290" width="114" height="52" fill="#c5e0b4" shape-rendering="crispEdges"/>
<rect x="1072" y="1290" width="114" height="52" fill="#c5e0b4" shape-rendering="crispEdges"/>
<rect x="1192" y="1290" width="114" height="52" fill="#c5e0b4" shape-rendering="crispEdges"/>
<rect x="1552" y="996" width="114" height="346" fill="#c5e0b4" shape-rendering="crispEdges"/>
<rect x="1672" y="996" width="114" height="346" fill="#c5e0b4" shape-rendering="crispEdges"/>
<rect x="1792" y="1290" width="114" height="52" fill="#c5e0b4" shape-rendering="crispEdges"/>
<rect x="1912" y="1238" width="114" height="104" fill="#c5e0b4" shape-rendering="crispEdges"/>
<rect x="2032" y="1238" width="114" height="104" fill="#c5e0b4" shape-rendering="crispEdges"/>
<rect x="471" y="1342" width="1913" height="2" fill="#000000" shape-rendering="crispEdges"/>
<rect x="588" y="1344" width="2" height="32" fill="#000000" shape-rendering="crispEdges"/>
<rect x="708" y="1344" width="2" height="32" fill="#000000" shape-rendering="crispEdges"/>
<rect x="828" y="1344" width="2" height="32" fill="#000000" shape-rendering="crispEdges"/>
<rect x="948" y="1344" width="2" height="32" fill="#000000" shape-rendering="crispEdges"/>
<rect x="1068" y="1344" width="2" height="32" fill="#000000" shape-rendering="crispEdges"/>
<rect x="1188" y="1344" width="2" height="32" fill="#000000" shape-rendering="crispEdges"/>
<rect x="1308" y="1344" width="2" height="32" fill="#000000" shape-rendering="crispEdges"/>
<rect x="1428" y="1344" width="2" height="32" fill="#000000" shape-rendering="crispEdges"/>
<rect x="1548" y="1344" width="2" height="32" fill="#000000" shape-rendering="crispEdges"/>
<rect x="1668" y="1344" width="2" height="32" fill="#000000" shape-rendering="crispEdges"/>
<rect x="1788" y="1344" width="2" height="32" fill="#000000" shape-rendering="crispEdges"/>
<rect x="1908" y="1344" width="2" height="32" fill="#000000" shape-rendering="crispEdges"/>
<rect x="2028" y="1344" width="2" height="32" fill="#000000" shape-rendering="crispEdges"/>
<rect x="2148" y="1344" width="2" height="32" fill="#000000" shape-rendering="crispEdges"/>
<rect x="2268" y="1344" width="2" height="32" fill="#000000" shape-rendering="crispEdges"/>
<text x="728" y="1370" font-size="25" fill="#1a1a1a" textLength="82" lengthAdjust="spacingAndGlyphs" stroke="#1a1a1a" stroke-width="0.25">$ 62.50</text>
<text x="848" y="1370" font-size="25" fill="#1a1a1a" textLength="82" lengthAdjust="spacingAndGlyphs" stroke="#1a1a1a" stroke-width="0.25">$ 62.50</text>
<text x="968" y="1370" font-size="25" fill="#1a1a1a" textLength="82" lengthAdjust="spacingAndGlyphs" stroke="#1a1a1a" stroke-width="0.25">$ 62.50</text>
<text x="1088" y="1370" font-size="25" fill="#1a1a1a" textLength="82" lengthAdjust="spacingAndGlyphs" stroke="#1a1a1a" stroke-width="0.25">$ 62.50</text>
<text x="1208" y="1370" font-size="25" fill="#1a1a1a" textLength="82" lengthAdjust="spacingAndGlyphs" stroke="#1a1a1a" stroke-width="0.25">$ 62.50</text>
<text x="1561" y="1370" font-size="25" fill="#1a1a1a" textLength="96" lengthAdjust="spacingAndGlyphs" stroke="#1a1a1a" stroke-width="0.25">$ 412.50</text>
<text x="1681" y="1370" font-size="25" fill="#1a1a1a" textLength="96" lengthAdjust="spacingAndGlyphs" stroke="#1a1a1a" stroke-width="0.25">$ 412.50</text>
<text x="1808" y="1370" font-size="25" fill="#1a1a1a" textLength="82" lengthAdjust="spacingAndGlyphs" stroke="#1a1a1a" stroke-width="0.25">$ 62.50</text>
<text x="1921" y="1370" font-size="25" fill="#1a1a1a" textLength="96" lengthAdjust="spacingAndGlyphs" stroke="#1a1a1a" stroke-width="0.25">$ 125.00</text>
<text x="2041" y="1370" font-size="25" fill="#1a1a1a" textLength="96" lengthAdjust="spacingAndGlyphs" stroke="#1a1a1a" stroke-width="0.25">$ 125.00</text>
<text x="367.7" y="1306.45" font-size="23.5" fill="#1a1a1a" textLength="81.3" lengthAdjust="spacingAndGlyphs" stroke="#1a1a1a" stroke-width="0.3">$ 50.00</text>
<rect x="456" y="1300" width="7" height="2" fill="#444444" shape-rendering="crispEdges"/>
<text x="353" y="1264.4" font-size="23.5" fill="#1a1a1a" textLength="96" lengthAdjust="spacingAndGlyphs" stroke="#1a1a1a" stroke-width="0.3">$ 100.00</text>
<rect x="456" y="1258" width="7" height="2" fill="#444444" shape-rendering="crispEdges"/>
<text x="353" y="1222.35" font-size="23.5" fill="#1a1a1a" textLength="96" lengthAdjust="spacingAndGlyphs" stroke="#1a1a1a" stroke-width="0.3">$ 150.00</text>
<rect x="456" y="1216" width="7" height="2" fill="#444444" shape-rendering="crispEdges"/>
<text x="353" y="1180.3" font-size="23.5" fill="#1a1a1a" textLength="96" lengthAdjust="spacingAndGlyphs" stroke="#1a1a1a" stroke-width="0.3">$ 200.00</text>
<rect x="456" y="1174" width="7" height="2" fill="#444444" shape-rendering="crispEdges"/>
<text x="353" y="1138.25" font-size="23.5" fill="#1a1a1a" textLength="96" lengthAdjust="spacingAndGlyphs" stroke="#1a1a1a" stroke-width="0.3">$ 250.00</text>
<rect x="456" y="1132" width="7" height="2" fill="#444444" shape-rendering="crispEdges"/>
<text x="353" y="1096.2" font-size="23.5" fill="#1a1a1a" textLength="96" lengthAdjust="spacingAndGlyphs" stroke="#1a1a1a" stroke-width="0.3">$ 300.00</text>
<rect x="456" y="1090" width="7" height="2" fill="#444444" shape-rendering="crispEdges"/>
<text x="353" y="1054.15" font-size="23.5" fill="#1a1a1a" textLength="96" lengthAdjust="spacingAndGlyphs" stroke="#1a1a1a" stroke-width="0.3">$ 350.00</text>
<rect x="456" y="1048" width="7" height="2" fill="#444444" shape-rendering="crispEdges"/>
<text x="353" y="1012.1" font-size="23.5" fill="#1a1a1a" textLength="96" lengthAdjust="spacingAndGlyphs" stroke="#1a1a1a" stroke-width="0.3">$ 400.00</text>
<rect x="456" y="1006" width="7" height="2" fill="#444444" shape-rendering="crispEdges"/>
<text x="353" y="970.05" font-size="23.5" fill="#1a1a1a" textLength="96" lengthAdjust="spacingAndGlyphs" stroke="#1a1a1a" stroke-width="0.3">$ 450.00</text>
<rect x="456" y="964" width="7" height="2" fill="#444444" shape-rendering="crispEdges"/>
<text x="401.7" y="1370" font-size="25" fill="#1a1a1a" textLength="56.3" lengthAdjust="spacingAndGlyphs" stroke="#1a1a1a" stroke-width="0.3">Cost:</text>
<rect x="110" y="1056" width="210" height="112" fill="#000000" shape-rendering="crispEdges"/>
<rect x="105" y="1051" width="208" height="110" fill="#ffffff" stroke="#000000" stroke-width="2" shape-rendering="crispEdges"/>
<text x="123" y="1095.7" font-size="28.5" fill="#1a1a1a" textLength="132" lengthAdjust="spacingAndGlyphs" stroke="#1a1a1a" stroke-width="0.3">Material 5</text>
<text x="137" y="1133" font-size="25" fill="#1a1a1a" textLength="57" lengthAdjust="spacingAndGlyphs" stroke="#1a1a1a" stroke-width="0.3">Cost:</text>
<rect x="270" y="1106" width="28" height="34" fill="#c5e0b4" shape-rendering="crispEdges"/>
<rect x="471" y="1378" width="1913" height="32" fill="#f3f3f3" shape-rendering="crispEdges"/>
<rect x="478" y="1380" width="27" height="26" fill="#ffffff" stroke="#ababab" stroke-width="2" shape-rendering="crispEdges"/>
<path d="M494,1386 v14 l-8,-7 z" fill="#777777"/>
<rect x="624" y="1380" width="919" height="26" fill="#ffffff" stroke="#c0c0c0" stroke-width="2" shape-rendering="crispEdges"/>
<rect x="2353" y="1380" width="28" height="26" fill="#ffffff" stroke="#ababab" stroke-width="2" shape-rendering="crispEdges"/>
<path d="M2365,1386 v14 l8,-7 z" fill="#777777"/>
<rect x="26" y="1410" width="2358" height="44" fill="#f1f1f1" shape-rendering="crispEdges"/>
<rect x="26" y="1410" width="2358" height="2" fill="#c6c6c6" shape-rendering="crispEdges"/>
<text x="41" y="1439.5" font-size="21.5" fill="#666666" textLength="60.5" lengthAdjust="spacingAndGlyphs">Ready</text>
<path d="M175,1443 L185,1433" fill="none" stroke="#7a7a7a" stroke-width="2"/>
<path d="M181,1426 l6,-1 l5,-7 l8,8 l-7,5 l-1,7 z" fill="#7a7a7a"/>
<text x="205" y="1439.5" font-size="21.5" fill="#666666" textLength="331.5" lengthAdjust="spacingAndGlyphs">New Tasks : Manually Scheduled</text>
<rect x="1737" y="1419" width="26" height="24" fill="none" stroke="#767676" stroke-width="2" shape-rendering="crispEdges"/>
<rect x="1738" y="1424" width="10" height="1.6" fill="#767676" shape-rendering="crispEdges"/>
<rect x="1742" y="1428" width="12" height="1.6" fill="#767676" shape-rendering="crispEdges"/>
<rect x="1746" y="1432" width="12" height="1.6" fill="#767676" shape-rendering="crispEdges"/>
<rect x="1752" y="1436" width="11" height="1.6" fill="#767676" shape-rendering="crispEdges"/>
<rect x="1812" y="1418" width="28" height="26" fill="#767676" shape-rendering="crispEdges"/>
<rect x="1814" y="1426" width="6" height="16" fill="#f1f1f1" shape-rendering="crispEdges"/>
<rect x="1822" y="1426" width="4" height="4" fill="#f1f1f1" shape-rendering="crispEdges"/>
<rect x="1822" y="1432" width="4" height="4" fill="#f1f1f1" shape-rendering="crispEdges"/>
<rect x="1822" y="1438" width="4" height="4" fill="#f1f1f1" shape-rendering="crispEdges"/>
<rect x="1828" y="1426" width="4" height="4" fill="#f1f1f1" shape-rendering="crispEdges"/>
<rect x="1828" y="1432" width="4" height="4" fill="#f1f1f1" shape-rendering="crispEdges"/>
<rect x="1828" y="1438" width="4" height="4" fill="#f1f1f1" shape-rendering="crispEdges"/>
<rect x="1834" y="1426" width="4" height="4" fill="#f1f1f1" shape-rendering="crispEdges"/>
<rect x="1834" y="1432" width="4" height="4" fill="#f1f1f1" shape-rendering="crispEdges"/>
<rect x="1834" y="1438" width="4" height="4" fill="#f1f1f1" shape-rendering="crispEdges"/>
<rect x="1888" y="1418" width="28" height="26" fill="#767676" shape-rendering="crispEdges"/>
<rect x="1890" y="1420" width="16" height="6" fill="#f1f1f1" shape-rendering="crispEdges"/>
<rect x="1904" y="1428" width="10" height="6" fill="#f1f1f1" shape-rendering="crispEdges"/>
<rect x="1890" y="1436" width="6" height="6" fill="#f1f1f1" shape-rendering="crispEdges"/>
<rect x="1898" y="1436" width="16" height="6" fill="#f1f1f1" shape-rendering="crispEdges"/>
<rect x="1964" y="1418" width="26" height="26" fill="#767676" shape-rendering="crispEdges"/>
<rect x="1966" y="1420" width="6" height="6" fill="#f1f1f1" shape-rendering="crispEdges"/>
<rect x="1966" y="1428" width="6" height="6" fill="#f1f1f1" shape-rendering="crispEdges"/>
<rect x="1966" y="1436" width="6" height="6" fill="#f1f1f1" shape-rendering="crispEdges"/>
<rect x="1974" y="1420" width="6" height="6" fill="#f1f1f1" shape-rendering="crispEdges"/>
<rect x="1974" y="1428" width="6" height="6" fill="#f1f1f1" shape-rendering="crispEdges"/>
<rect x="1974" y="1436" width="6" height="6" fill="#f1f1f1" shape-rendering="crispEdges"/>
<rect x="1982" y="1420" width="6" height="6" fill="#f1f1f1" shape-rendering="crispEdges"/>
<rect x="1982" y="1428" width="6" height="6" fill="#f1f1f1" shape-rendering="crispEdges"/>
<rect x="1982" y="1436" width="6" height="6" fill="#f1f1f1" shape-rendering="crispEdges"/>
<rect x="2045" y="1419" width="20" height="24" fill="none" stroke="#767676" stroke-width="2" shape-rendering="crispEdges"/>
<rect x="2040" y="1424" width="10" height="3.5" fill="#767676" shape-rendering="crispEdges"/>
<rect x="2040" y="1434" width="10" height="3.5" fill="#767676" shape-rendering="crispEdges"/>
<rect x="2102" y="1430" width="12" height="3" fill="#666666" shape-rendering="crispEdges"/>
<rect x="2122" y="1430" width="200" height="2" fill="#b4b4b4" shape-rendering="crispEdges"/>
<rect x="2222" y="1425" width="2" height="12" fill="#b4b4b4" shape-rendering="crispEdges"/>
<rect x="2266" y="1420" width="8" height="22" fill="#666666" shape-rendering="crispEdges"/>
<rect x="2330" y="1430" width="16" height="3.5" fill="#666666" shape-rendering="crispEdges"/>
<rect x="2336.2" y="1423.5" width="3.5" height="16" fill="#666666" shape-rendering="crispEdges"/>
<rect x="24" y="134" width="2" height="1322" fill="#367b35" shape-rendering="crispEdges"/>
<rect x="2384" y="134" width="2" height="1322" fill="#367b35" shape-rendering="crispEdges"/>
<rect x="24" y="1454" width="2362" height="2" fill="#367b35" shape-rendering="crispEdges"/>
</svg>
</body></html>
